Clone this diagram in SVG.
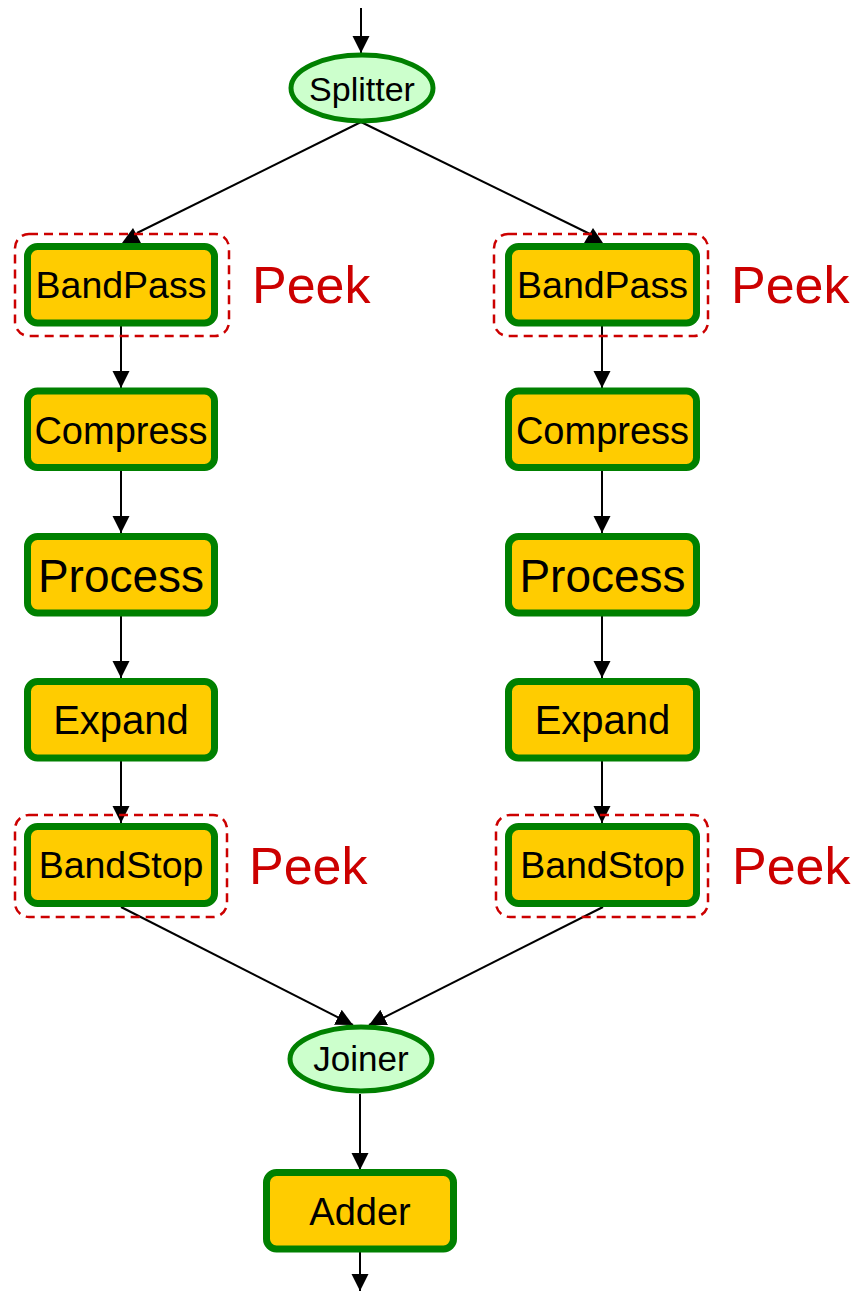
<svg xmlns="http://www.w3.org/2000/svg" width="856" height="1291" viewBox="0 0 856 1291">
<style>
.box{fill:#ffcc00;stroke:#008000;stroke-width:7}
.oval{fill:#ccffcc;stroke:#008000;stroke-width:5}
.peekbox{fill:none;stroke:#cc0000;stroke-width:2.5;stroke-dasharray:9,6}
.lbl{font-family:"Liberation Sans",Arial,sans-serif;fill:#000;text-anchor:middle}
.peek{font-family:"Liberation Sans",Arial,sans-serif;fill:#cc0000;font-size:52px}
.edge{stroke:#000;stroke-width:2;fill:none}
</style>
<defs>
<marker id="ah" markerUnits="userSpaceOnUse" markerWidth="18" markerHeight="18" refX="17" refY="8.5" orient="auto">
<path d="M0,0 L17,8.5 L0,17 Z" fill="#000"/>
</marker>
</defs>
<g id="connectors">
<line class="edge" x1="361" y1="8" x2="361" y2="53" marker-end="url(#ah)"/>
<line class="edge" x1="361" y1="122" x2="137" y2="233"/>
<polygon points="122,243 141,243 133,228" fill="#000"/>
<line class="edge" x1="361" y1="122" x2="590" y2="234"/>
<polygon points="584,243 603,243 593,228" fill="#000"/>
<line class="edge" x1="121" y1="326" x2="121" y2="388" marker-end="url(#ah)"/>
<line class="edge" x1="121" y1="471" x2="121" y2="533" marker-end="url(#ah)"/>
<line class="edge" x1="121" y1="616" x2="121" y2="678" marker-end="url(#ah)"/>
<line class="edge" x1="121" y1="761" x2="121" y2="823" marker-end="url(#ah)"/>
<line class="edge" x1="602" y1="326" x2="602" y2="388" marker-end="url(#ah)"/>
<line class="edge" x1="602" y1="471" x2="602" y2="533" marker-end="url(#ah)"/>
<line class="edge" x1="602" y1="616" x2="602" y2="678" marker-end="url(#ah)"/>
<line class="edge" x1="602" y1="761" x2="602" y2="823" marker-end="url(#ah)"/>
<line class="edge" x1="121" y1="907" x2="353" y2="1025" marker-end="url(#ah)"/>
<line class="edge" x1="603" y1="907" x2="369" y2="1025" marker-end="url(#ah)"/>
<line class="edge" x1="360" y1="1094" x2="360" y2="1170" marker-end="url(#ah)"/>
<line class="edge" x1="360" y1="1252" x2="360" y2="1291" marker-end="url(#ah)"/>
</g>
<g id="splitter">
<ellipse class="oval" cx="362" cy="88" rx="71" ry="33"/>
<text class="lbl" x="362" y="101" font-size="34">Splitter</text>
</g>
<g id="bandpass-left">
<rect class="peekbox" x="15" y="234" width="214" height="102" rx="14"/>
<rect class="box" x="27.5" y="246.5" width="187" height="76.5" rx="10"/>
<text class="lbl" x="121" y="298" font-size="37.5">BandPass</text>
<text class="peek" x="252" y="303">Peek</text>
</g>
<g id="compress-left">
<rect class="box" x="27.5" y="391" width="187" height="76.5" rx="10"/>
<text class="lbl" x="121" y="444" font-size="38">Compress</text>
</g>
<g id="process-left">
<rect class="box" x="27.5" y="536.5" width="187" height="76.5" rx="10"/>
<text class="lbl" x="121" y="592" font-size="46">Process</text>
</g>
<g id="expand-left">
<rect class="box" x="27.5" y="681.5" width="187" height="76.5" rx="10"/>
<text class="lbl" x="121" y="734" font-size="40">Expand</text>
</g>
<g id="bandstop-left">
<rect class="peekbox" x="15" y="815" width="212" height="102" rx="14"/>
<rect class="box" x="27.5" y="826.5" width="187" height="77" rx="10"/>
<text class="lbl" x="121" y="878" font-size="37.5">BandStop</text>
<text class="peek" x="249" y="884">Peek</text>
</g>
<g id="bandpass-right">
<rect class="peekbox" x="494" y="234" width="214" height="102" rx="14"/>
<rect class="box" x="508.5" y="246.5" width="188" height="76.5" rx="10"/>
<text class="lbl" x="602.5" y="298" font-size="37.5">BandPass</text>
<text class="peek" x="731" y="303">Peek</text>
</g>
<g id="compress-right">
<rect class="box" x="508.5" y="391" width="188" height="76.5" rx="10"/>
<text class="lbl" x="602.5" y="444" font-size="38">Compress</text>
</g>
<g id="process-right">
<rect class="box" x="508.5" y="536.5" width="188" height="76.5" rx="10"/>
<text class="lbl" x="602.5" y="592" font-size="46">Process</text>
</g>
<g id="expand-right">
<rect class="box" x="508.5" y="681.5" width="188" height="76.5" rx="10"/>
<text class="lbl" x="602.5" y="734" font-size="40">Expand</text>
</g>
<g id="bandstop-right">
<rect class="peekbox" x="496" y="815" width="212" height="102" rx="14"/>
<rect class="box" x="508.5" y="826.5" width="188" height="77" rx="10"/>
<text class="lbl" x="602.5" y="878" font-size="37.5">BandStop</text>
<text class="peek" x="732" y="884">Peek</text>
</g>
<g id="joiner">
<ellipse class="oval" cx="361" cy="1059" rx="71" ry="32"/>
<text class="lbl" x="361" y="1071" font-size="35">Joiner</text>
</g>
<g id="adder">
<rect class="box" x="266.5" y="1172.5" width="187" height="76.5" rx="10"/>
<text class="lbl" x="360" y="1225" font-size="38">Adder</text>
</g>
</svg>
